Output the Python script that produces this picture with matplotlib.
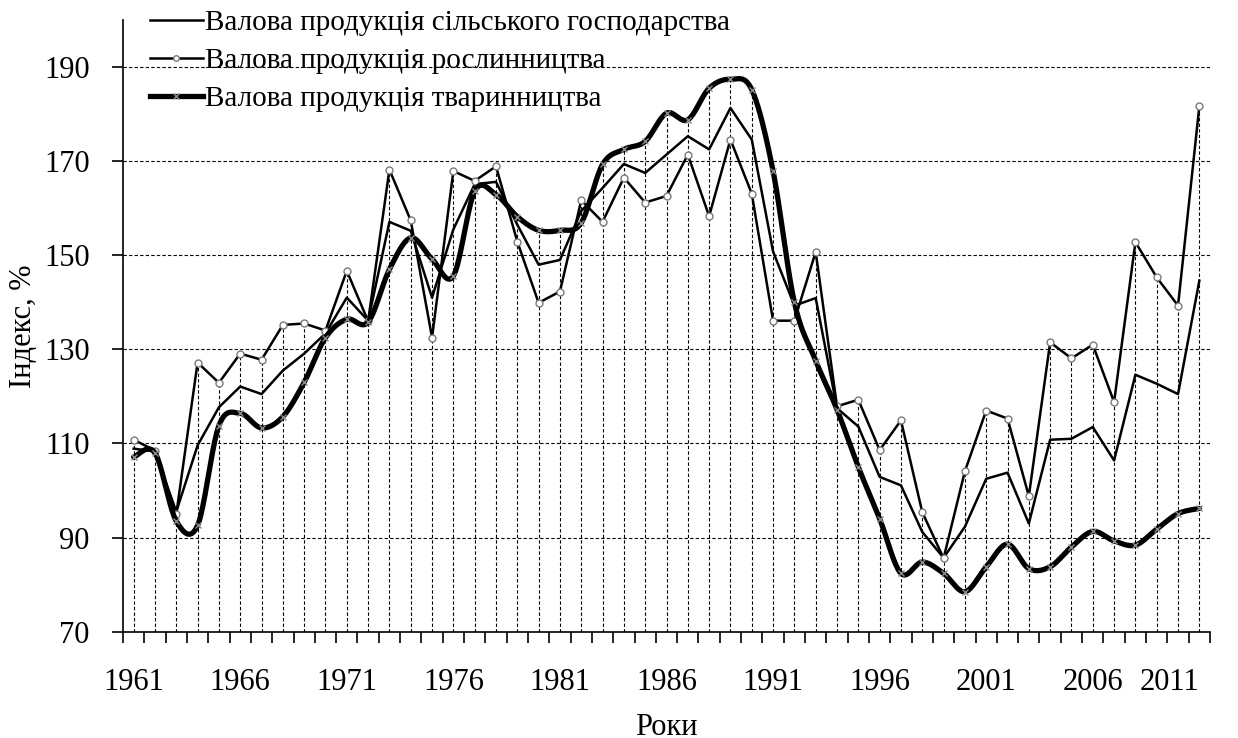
import numpy as np
import matplotlib
matplotlib.use("Agg")
import matplotlib.pyplot as plt
from matplotlib.lines import Line2D

plt.rcParams['font.family'] = ['Liberation Serif', 'DejaVu Serif']

years = list(range(1961, 2012))
total = [108.9, 108.3, 95.5, 109.6, 117.7, 122.1, 120.5, 125.5, 129.1, 133.4,
         141.0, 136.1, 157.1, 155.2, 141.0, 155.5, 165.1, 165.6, 156.5, 148.0,
         149.0, 159.4, 164.3, 169.4, 167.5, 171.4, 175.3, 172.5, 181.3, 174.6,
         150.8, 139.3, 140.9, 117.5, 113.6, 102.9, 101.1, 91.2, 85.7, 92.3,
         102.5, 103.8, 93.0, 110.8, 111.0, 113.5, 106.4, 124.6, 122.7, 120.5,
         144.6]
crop = [110.8, 108.5, 95.0, 127.2, 122.9, 129.1, 127.8, 135.2, 135.5, 134.0,
        146.7, 136.0, 168.2, 157.4, 132.5, 167.9, 165.8, 168.9, 152.9, 139.9,
        142.3, 161.7, 157.1, 166.5, 161.2, 162.6, 171.4, 158.3, 174.6, 163.1,
        136.1, 136.1, 150.7, 117.9, 119.3, 108.6, 114.9, 95.4, 85.6, 104.1,
        117.0, 115.3, 98.8, 131.5, 128.1, 131.0, 118.8, 152.8, 145.3, 139.3,
        181.7]
livestock = [107.1, 108.0, 93.5, 92.6, 113.8, 116.4, 113.3, 115.7, 123.0, 132.5,
             136.4, 135.8, 147.0, 153.7, 149.2, 145.6, 163.6, 162.9, 158.2, 155.3,
             155.3, 156.9, 169.3, 172.5, 174.2, 180.2, 178.8, 185.5, 187.4, 185.2,
             167.9, 140.0, 127.6, 117.2, 105.0, 94.0, 82.4, 84.8, 82.4, 78.5,
             83.8, 88.6, 83.4, 83.8, 88.0, 91.3, 89.3, 88.4, 91.8, 95.1,
             96.2]
labels = ["Валова продукція сільського господарства",
          "Валова продукція рослинництва",
          "Валова продукція тваринництва"]
xticks_major = list(range(1961, 2012, 5))
yticks = [70, 90, 110, 130, 150, 170, 190]


def smooth(x, y, n=20):
    x = np.asarray(x, float)
    y = np.asarray(y, float)
    xs, ys = [], []
    m = len(x)
    for i in range(m - 1):
        p0 = np.array([x[i], y[i]])
        p3 = np.array([x[i + 1], y[i + 1]])
        pm = np.array([x[i - 1], y[i - 1]]) if i > 0 else p0
        pp = np.array([x[i + 2], y[i + 2]]) if i + 2 < m else p3
        p1 = p0 + (p3 - pm) / 6.0
        p2 = p3 - (pp - p0) / 6.0
        t = np.linspace(0, 1, n, endpoint=(i == m - 2))[:, None]
        pts = ((1 - t) ** 3) * p0 + 3 * ((1 - t) ** 2) * t * p1 + 3 * (1 - t) * t ** 2 * p2 + t ** 3 * p3
        xs.extend(pts[:, 0])
        ys.extend(pts[:, 1])
    return xs, ys


fig = plt.figure(figsize=(12.38, 7.38), dpi=100)
ax = fig.add_axes([123 / 1238, 1 - 631.7 / 738, (1210 - 123) / 1238, (631.7 - 20) / 738])

ax.set_xlim(1960.5, 2011.5)
ax.set_ylim(70, 200)

# horizontal gridlines
for v in yticks[1:]:
    ax.axhline(v, color='black', lw=0.8, ls=(0, (3, 2)), zorder=1)
# drop lines
tops = np.maximum(np.maximum(total, crop), livestock)
ax.vlines(years, 70, tops, colors='black', lw=0.8, linestyles=(0, (3, 2)), zorder=1)

ax.plot(years, total, color='black', lw=1.8, zorder=3)
ax.plot(years, crop, color='black', lw=1.8, marker='o', ms=5, mfc='white',
        mec='#7a7a7a', mew=1.0, zorder=4)
sx, sy = smooth(years, livestock)
ax.plot(sx, sy, color='black', lw=3.8, solid_capstyle='round', zorder=5)
ax.plot(years, livestock, ls='none', marker='x', ms=5, mec='#8a8a8a', mew=1.0, zorder=6)

for s in ['top', 'right']:
    ax.spines[s].set_visible(False)
for s in ['left', 'bottom']:
    ax.spines[s].set_linewidth(1.2)

ax.set_yticks(yticks)
ax.set_yticklabels([str(v) for v in yticks])
ax.tick_params(axis='y', direction='out', length=8, width=1.2, pad=16, labelsize=22)

ax.set_xticks(xticks_major)
ax.set_xticklabels([str(v) for v in xticks_major])
ax.set_xticks(np.arange(1960.5, 2012, 1.0), minor=True)
ax.tick_params(axis='x', which='major', length=0, pad=26, labelsize=22)
ax.tick_params(axis='x', which='minor', direction='out', length=8, width=1.2)
lab = ax.get_xticklabels()
lab[-1].set_horizontalalignment('right')
lab[-1].set_x(2011.5)

ax.set_ylabel("Індекс, %", fontsize=22, labelpad=4)
ax.set_xlabel("Роки", fontsize=22, labelpad=12)

handles = [
    Line2D([], [], color='black', lw=1.8),
    Line2D([], [], color='black', lw=1.8, marker='o', ms=4, mfc='white', mec='#7a7a7a'),
    Line2D([], [], color='black', lw=3.8, marker='x', ms=4, mec='#8a8a8a'),
]
ax.legend(handles, labels, loc='upper left', bbox_to_anchor=(150 / 1238, 1 - 10 / 738),
          bbox_transform=fig.transFigure, frameon=False, fontsize=21,
          handlelength=1.8, handletextpad=0.1, labelspacing=0.39, borderpad=0,
          borderaxespad=0)

fig.savefig("out.png", dpi=100, facecolor='white')
